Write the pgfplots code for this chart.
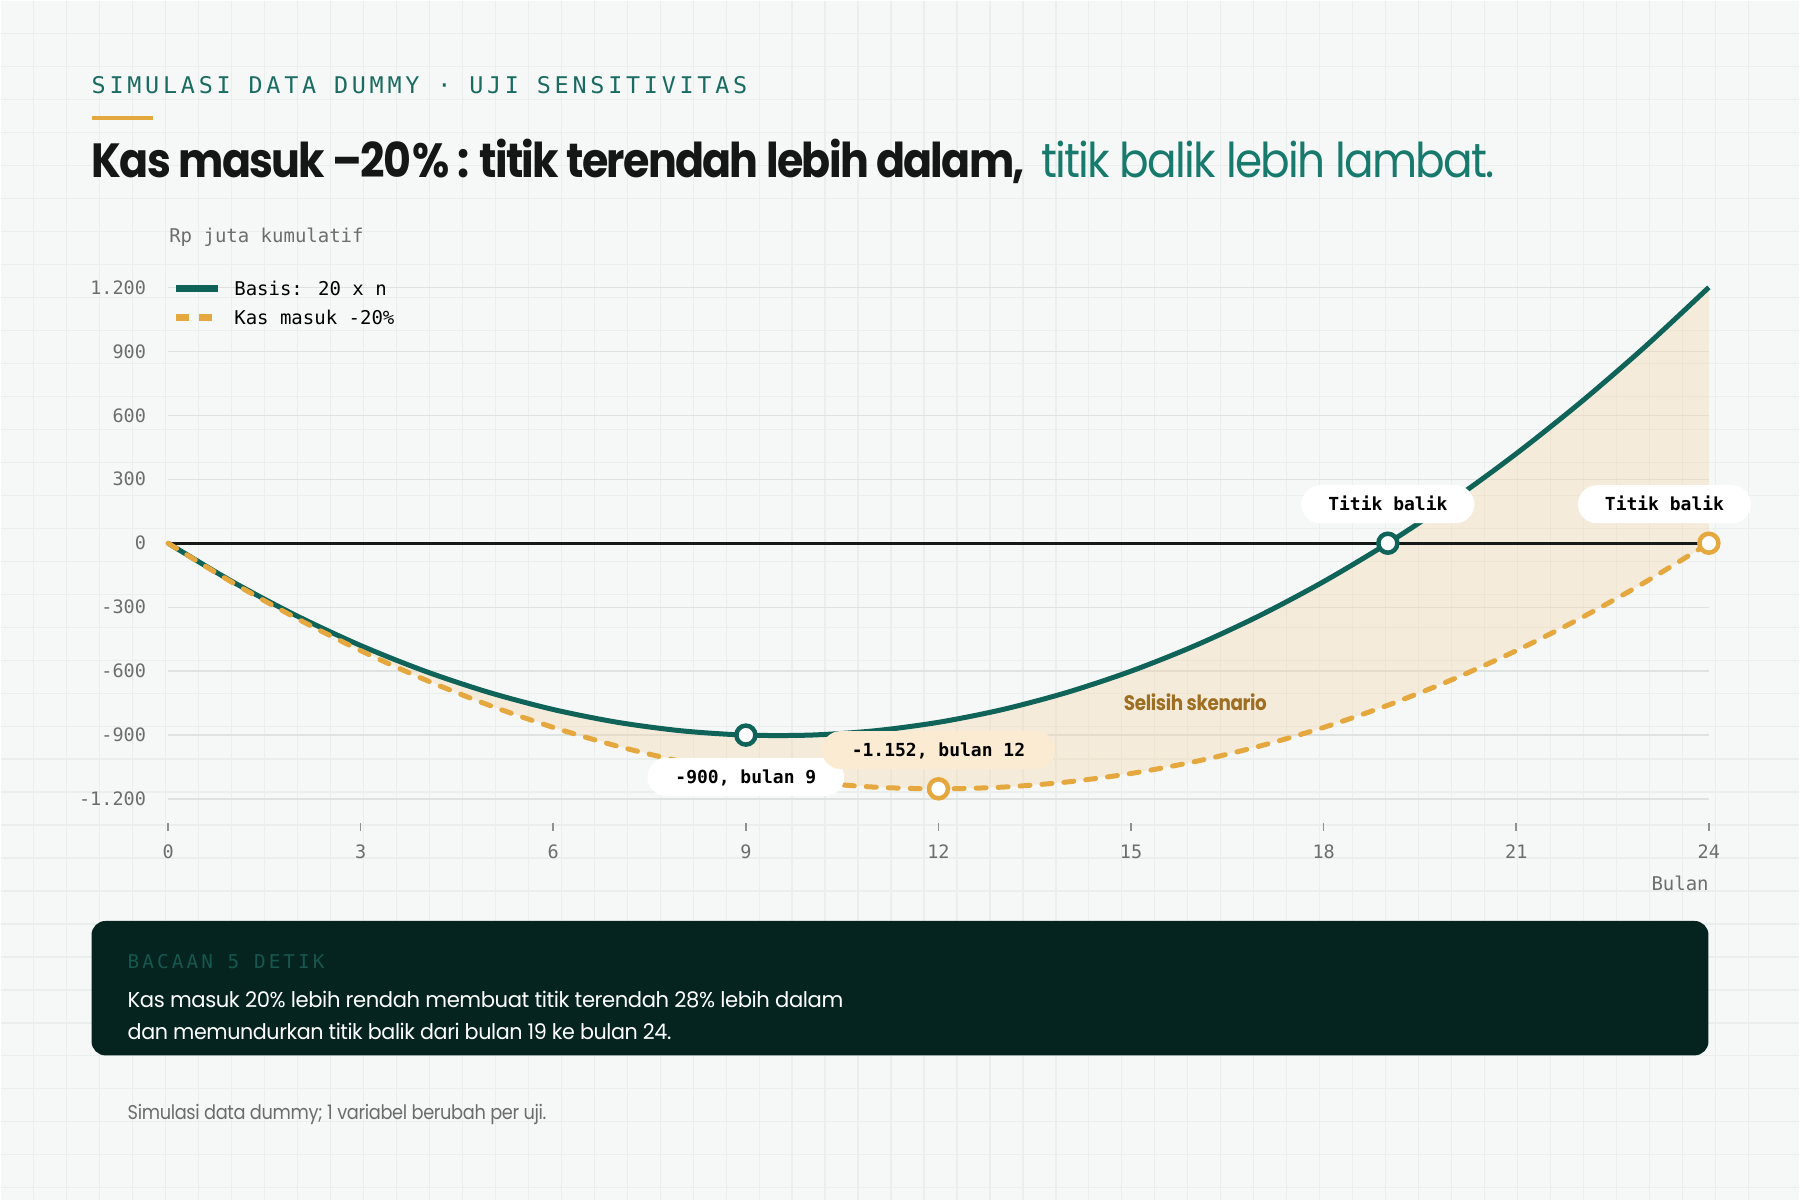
\documentclass[border=0pt]{standalone}
\usepackage{fontspec}
\usepackage{graphicx}
\usepackage{pgfplots}
\pgfplotsset{compat=1.18}
\usepackage{pgfplotstable}
\setmainfont{Poppins}
\newfontfamily\titlefont{Poppins}[LetterSpace=-4]
\newfontfamily\bodyfont{Poppins}[LetterSpace=-2]
\newfontfamily\monofont{DejaVu Sans Mono}
\newfontfamily\monowide{DejaVu Sans Mono}[LetterSpace=16]

\definecolor{bgc}{HTML}{F6F8F7}
\definecolor{gridbg}{HTML}{EAEEEC}
\definecolor{basisc}{HTML}{0F6358}
\definecolor{scenc}{HTML}{E4A83E}
\definecolor{fillc}{HTML}{F3D3A4}
\definecolor{headc}{HTML}{1A6B61}
\definecolor{titleteal}{HTML}{177A6D}
\definecolor{titleblack}{HTML}{141716}
\definecolor{tickc}{HTML}{6B6E6C}
\definecolor{tickmark}{HTML}{8E918F}
\definecolor{gridc}{HTML}{DEE2E0}
\definecolor{zeroc}{HTML}{151917}
\definecolor{darkbox}{HTML}{05241F}
\definecolor{boxlabel}{HTML}{17574E}
\definecolor{creampill}{HTML}{FCEBD3}
\definecolor{selisihc}{HTML}{9E6E22}
\definecolor{footc}{HTML}{6A6D6B}

\pgfplotstableread{
n v
0 0
1 -180
2 -340
3 -480
4 -600
5 -700
6 -780
7 -840
8 -880
9 -900
10 -900
11 -880
12 -840
13 -780
14 -700
15 -600
16 -480
17 -340
18 -180
19 0
20 200
21 420
22 660
23 920
24 1200
}\basistable

\pgfplotstableread{
n v
0 0
1 -184
2 -352
3 -504
4 -640
5 -760
6 -864
7 -952
8 -1024
9 -1080
10 -1120
11 -1144
12 -1152
13 -1144
14 -1120
15 -1080
16 -1024
17 -952
18 -864
19 -760
20 -640
21 -504
22 -352
23 -184
24 0
}\scentable

% gap between the scenarios: basis forward, then scenario backward
\pgfplotstableread{
n v
0 0
1 -180
2 -340
3 -480
4 -600
5 -700
6 -780
7 -840
8 -880
9 -900
10 -900
11 -880
12 -840
13 -780
14 -700
15 -600
16 -480
17 -340
18 -180
19 0
20 200
21 420
22 660
23 920
24 1200
24 0
23 -184
22 -352
21 -504
20 -640
19 -760
18 -864
17 -952
16 -1024
15 -1080
14 -1120
13 -1144
12 -1152
11 -1144
10 -1120
9 -1080
8 -1024
7 -952
6 -864
5 -760
4 -640
3 -504
2 -352
1 -184
0 0
}\gaptable

\newcommand{\tickfont}{\monofont\fontsize{18.5}{18.5}\selectfont}
\newcommand{\pillfont}{\monofont\bfseries\fontsize{18}{18}\selectfont}

\begin{document}
\begin{tikzpicture}
\fill[bgc] (0,0) rectangle (1800pt,1200pt);
\begin{scope}[x=1pt,y=-1pt,yshift=1200pt]
  \foreach \i in {33,66,...,1780} \draw[gridbg, line width=1.2pt] (\i,0) -- (\i,1200);
  \foreach \j in {33,66,...,1190} \draw[gridbg, line width=1.2pt] (0,\j) -- (1800,\j);
\end{scope}

\begin{axis}[
  at={(167.6pt,369pt)}, anchor=south west,
  scale only axis, width=1541.8pt, height=554.7pt,
  xmin=0, xmax=24, ymin=-1350, ymax=1250,
  clip=false,
  axis line style={draw=none},
  xtick={0,3,6,9,12,15,18,21,24},
  xticklabels={0,3,6,9,12,15,18,21,24},
  ytick={-1200,-900,-600,-300,0,300,600,900,1200},
  yticklabels={-1.200,-900,-600,-300,0,300,600,900,1.200},
  xtick pos=bottom, ytick pos=left, tick align=inside,
  major tick length=8pt,
  xtick style={draw=tickmark, line width=1.6pt},
  ytick style={draw=none},
  ymajorgrids, grid style={draw=gridc, line width=1.3pt},
  ticklabel style={font=\tickfont, text=tickc},
  xticklabel style={inner sep=0pt, anchor=north, yshift=-13.4pt},
  yticklabel style={inner sep=0pt, anchor=east, xshift=-22pt},
  xlabel={Bulan}, ylabel={Rp juta kumulatif},
  xlabel style={at={(axis description cs:1,0)}, anchor=base east, inner sep=0pt, yshift=-59.5pt, font=\monofont\fontsize{19}{19}\selectfont, text=tickc},
  ylabel style={at={(axis description cs:0,1)}, rotate=-90, anchor=base west, inner sep=0pt, xshift=1pt, yshift=34.3pt, font=\monofont\fontsize{19}{19}\selectfont, text=tickc},
  legend cell align=left,
  legend image code/.code={\draw[#1, line width=7pt] (0pt,0pt) -- (42pt,0pt);},
  legend style={at={(axis description cs:0,1)}, anchor=north west, xshift=4.6pt, yshift=-4.7pt,
    draw=none, fill=none, inner sep=0pt, outer sep=0pt, row sep=15.5pt, column sep=12.7pt,
    font=\monofont\fontsize{19}{19}\selectfont,
    nodes={inner sep=0pt, text height=14pt, text depth=0pt}},
]
\addplot[fill=fillc, fill opacity=0.35, draw=none, forget plot] table[x=n,y=v]{\gaptable};
\addplot[zeroc, line width=3.2pt, forget plot] coordinates {(0,0) (24,0)};
\addplot[basisc, line width=5pt, smooth] table[x=n,y=v]{\basistable};
\addlegendentry{Basis: 20 x n}
\addplot[scenc, line width=5pt, smooth, line cap=round, dash pattern=on 10pt off 12pt,
  legend image post style={line cap=butt, dash pattern=on 13pt off 10pt}] table[x=n,y=v]{\scentable};
\addlegendentry{Kas masuk -20\%}
\addplot[only marks, mark=*, mark size=9.5pt, mark options={draw=basisc, fill=white, line width=4.5pt, solid}, forget plot] coordinates {(9,-900) (19,0)};
\addplot[only marks, mark=*, mark size=9.5pt, mark options={draw=scenc, fill=white, line width=4.5pt, solid}, forget plot] coordinates {(12,-1152) (24,0)};

\node[fill=white, rounded corners=19pt, minimum height=38pt, inner xsep=28pt, inner ysep=0pt, text height=13.1pt, text depth=0pt, font=\pillfont, yshift=-42pt] at (axis cs:9,-900) {-900, bulan 9};
\node[fill=creampill, rounded corners=19pt, minimum height=38pt, inner xsep=30pt, inner ysep=0pt, text height=13.1pt, text depth=0pt, font=\pillfont, yshift=38.8pt] at (axis cs:12,-1152) {-1.152, bulan 12};
\node[fill=white, rounded corners=19pt, minimum height=38pt, inner xsep=27pt, inner ysep=0pt, text height=13.1pt, text depth=0pt, font=\pillfont, yshift=39pt] at (axis cs:19,0) {Titik balik};
\node[fill=white, rounded corners=19pt, minimum height=38pt, inner xsep=27pt, inner ysep=0pt, text height=13.1pt, text depth=0pt, font=\pillfont, xshift=-44.4pt, yshift=39pt] at (axis cs:24,0) {Titik balik};
\end{axis}

\begin{scope}[x=1pt,y=-1pt,yshift=1200pt]
  % header
  \node[anchor=base west, inner sep=0pt, text=headc] at (91,93) {\resizebox{656pt}{\height}{\monowide\fontsize{23}{23}\selectfont SIMULASI DATA DUMMY · UJI SENSITIVITAS}};
  \fill[scenc] (91,115) rectangle (153,119);
  % title
  \node[anchor=base west, inner sep=0pt, text=titleblack] at (91,177.3) {\resizebox{934pt}{\height}{\titlefont\bfseries\fontsize{48}{48}\selectfont Kas masuk –20\kern2pt\% : titik terendah lebih dalam,}};
  \node[anchor=base west, inner sep=0pt, text=titleteal] at (1041,177.3) {\resizebox{454pt}{\height}{\titlefont\fontsize{48}{48}\selectfont titik balik lebih lambat.}};
  % scenario gap label
  \node[anchor=base, inner sep=0pt, text=selisihc] at (1195.6,710.5) {\resizebox{143pt}{\height}{\bodyfont\bfseries\fontsize{21}{21}\selectfont Selisih skenario}};
  % dark box
  \fill[darkbox, rounded corners=14pt] (91,921) rectangle (1709,1055.5);
  \node[anchor=base west, inner sep=0pt, text=boxlabel] at (127,969) {\resizebox{197pt}{\height}{\monowide\fontsize{19}{19}\selectfont BACAAN 5 DETIK}};
  \node[anchor=base west, inner sep=0pt, text=white] at (127,1007.7) {\resizebox{716pt}{\height}{\bodyfont\fontsize{21.5}{21.5}\selectfont Kas masuk 20\% lebih rendah membuat titik terendah 28\% lebih dalam}};
  \node[anchor=base west, inner sep=0pt, text=white] at (127,1040) {\resizebox{544pt}{\height}{\bodyfont\fontsize{21.5}{21.5}\selectfont dan memundurkan titik balik dari bulan 19 ke bulan 24.}};
  % footnote
  \node[anchor=base west, inner sep=0pt, text=footc] at (127,1120) {\resizebox{419pt}{\height}{\bodyfont\fontsize{20}{20}\selectfont Simulasi data dummy; 1 variabel berubah per uji.}};
\end{scope}
\end{tikzpicture}
\end{document}
